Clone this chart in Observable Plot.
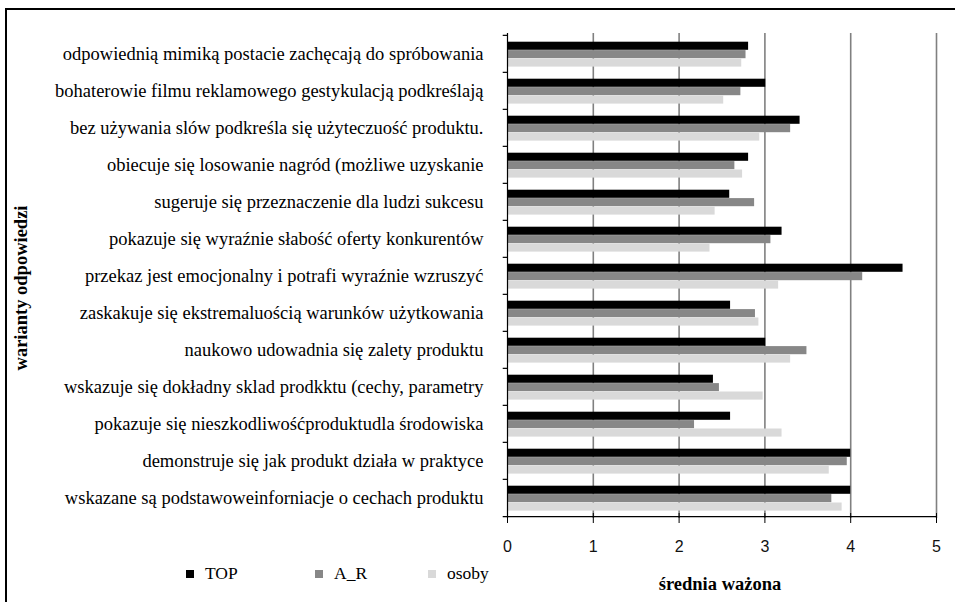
<!DOCTYPE html>
<html>
<head>
<meta charset="utf-8">
<script src="https://cdn.jsdelivr.net/npm/d3@7"></script>
<script src="https://cdn.jsdelivr.net/npm/@observablehq/plot@0.6"></script>
<style>
  html, body { margin: 0; padding: 0; background: #fff; overflow: hidden; }
  #wrap { position: relative; width: 955px; height: 602px; overflow: hidden; }
  #frame { position: absolute; left: 5px; top: 8px; width: 970px; height: 620px; border: 2px solid #000; box-sizing: border-box; pointer-events: none; }
  #chart { position: absolute; left: 0; top: 0; }
  #ytitle { position: absolute; left: 21px; top: 288px; transform: translate(-50%, -50%) rotate(-90deg); font-family: "Liberation Serif", "Times New Roman", serif; font-weight: bold; font-size: 18.5px; white-space: nowrap; }
  #xtitle { position: absolute; left: 720px; top: 584px; transform: translate(-50%, -50%); font-family: "Liberation Serif", "Times New Roman", serif; font-weight: bold; font-size: 18.5px; white-space: nowrap; }
  .leg { position: absolute; top: 563px; display: flex; align-items: center; white-space: nowrap; }
  .leg .sw { width: 8px; height: 8px; margin-right: 11px; display: inline-block; }
  .leg .lt { font-family: "Liberation Serif", "Times New Roman", serif; font-size: 17.5px; color: #000; }
</style>
</head>
<body>
<div id="wrap">
  <div id="chart"></div>
  <div id="ytitle"></div>
  <div id="xtitle"></div>
  <div id="frame"></div>
</div>
<script>
const categories = [
  "odpowiednią mimiką postacie zachęcają do spróbowania",
  "bohaterowie filmu reklamowego gestykulacją podkreślają",
  "bez używania slów podkreśla się użyteczuość produktu.",
  "obiecuje się losowanie nagród (możliwe uzyskanie",
  "sugeruje się przeznaczenie dla ludzi sukcesu",
  "pokazuje się wyraźnie słabość oferty konkurentów",
  "przekaz jest emocjonalny i potrafi wyraźnie wzruszyć",
  "zaskakuje się ekstremaluością warunków użytkowania",
  "naukowo udowadnia się zalety produktu",
  "wskazuje się dokładny sklad prodkktu (cechy, parametry",
  "pokazuje się nieszkodliwośćproduktudla środowiska",
  "demonstruje się jak produkt działa w praktyce",
  "wskazane są podstawoweinforniacje o cechach produktu"
];
const topValues   = [2.81, 3.01, 3.41, 2.81, 2.59, 3.20, 4.61, 2.60, 3.01, 2.40, 2.60, 4.00, 4.00];
const arValues    = [2.78, 2.72, 3.30, 2.65, 2.88, 3.07, 4.14, 2.89, 3.49, 2.47, 2.18, 3.96, 3.78];
const osobyValues = [2.73, 2.52, 2.94, 2.74, 2.42, 2.36, 3.16, 2.93, 3.30, 2.98, 3.20, 3.75, 3.90];
const seriesNames = ["TOP", "A_R", "osoby"];
const xTicks = [0, 1, 2, 3, 4, 5];
const xTickLabels = ["0", "1", "2", "3", "4", "5"];
const yTitle = "warianty odpowiedzi";
const xTitle = "średnia ważona";

const seriesColors = ["#000000", "#878787", "#d9d9d9"];
const seriesValues = [topValues, arValues, osobyValues];

const W = 955, H = 602;
const mL = 507, mR = 19, mT = 33, mB = 84;
const band = (H - mT - mB) / categories.length;
const barH = 8.4, barTop = 6.7;

const barMarks = seriesNames.map((name, k) => {
  const rows = categories.map((c, i) => ({category: c, value: seriesValues[k][i], series: name}));
  const it = barTop + k * barH;
  return Plot.barX(rows, {
    x: "value", y: "category", fill: seriesColors[k],
    insetTop: it, insetBottom: band - it - barH
  });
});

const lastCat = categories[categories.length - 1];
const serif = "'Liberation Serif', 'Times New Roman', serif";

const chart = Plot.plot({
  width: W, height: H,
  marginLeft: mL, marginRight: mR, marginTop: mT, marginBottom: mB,
  style: {background: "transparent", color: "#000"},
  x: {domain: [0, 5], label: null},
  y: {domain: categories, padding: 0, label: null},
  marks: [
    Plot.ruleX(xTicks.filter(d => d > 0), {stroke: "#808080", strokeWidth: 1.6}),
    ...barMarks,
    Plot.ruleY(categories, {y: d => d, x1: -0.05, x2: 0, dy: -band / 2, stroke: "#000", strokeWidth: 1.2}),
    Plot.ruleY([lastCat], {y: d => d, x1: -0.05, x2: 5, dy: band / 2, stroke: "#000", strokeWidth: 1.3}),
    Plot.ruleX([0], {stroke: "#000", strokeWidth: 1.2}),
    Plot.axisY({tickSize: 0, tickPadding: 24, fontFamily: serif, fontSize: 18.5, fill: "#000", label: null}),
    Plot.axisX({ticks: xTicks, tickSize: 10, dy: -5, tickFormat: () => "", label: null, stroke: "#000"}),
    Plot.axisX({ticks: xTicks, tickSize: 0, tickPadding: 22, tickFormat: (d, i) => xTickLabels[i],
      fontFamily: "'Liberation Sans', Arial, sans-serif", fontSize: 16, fill: "#111", label: null})
  ]
});
document.getElementById("chart").appendChild(chart);
document.getElementById("ytitle").textContent = yTitle;
document.getElementById("xtitle").textContent = xTitle;

const legendX = [186, 315, 428];
const wrap = document.getElementById("wrap");
seriesNames.forEach((name, k) => {
  const d = document.createElement("div");
  d.className = "leg";
  d.style.left = legendX[k] + "px";
  const sw = document.createElement("span");
  sw.className = "sw";
  sw.style.background = seriesColors[k];
  const t = document.createElement("span");
  t.className = "lt";
  t.textContent = name;
  d.appendChild(sw);
  d.appendChild(t);
  wrap.appendChild(d);
});
</script>
</body>
</html>
